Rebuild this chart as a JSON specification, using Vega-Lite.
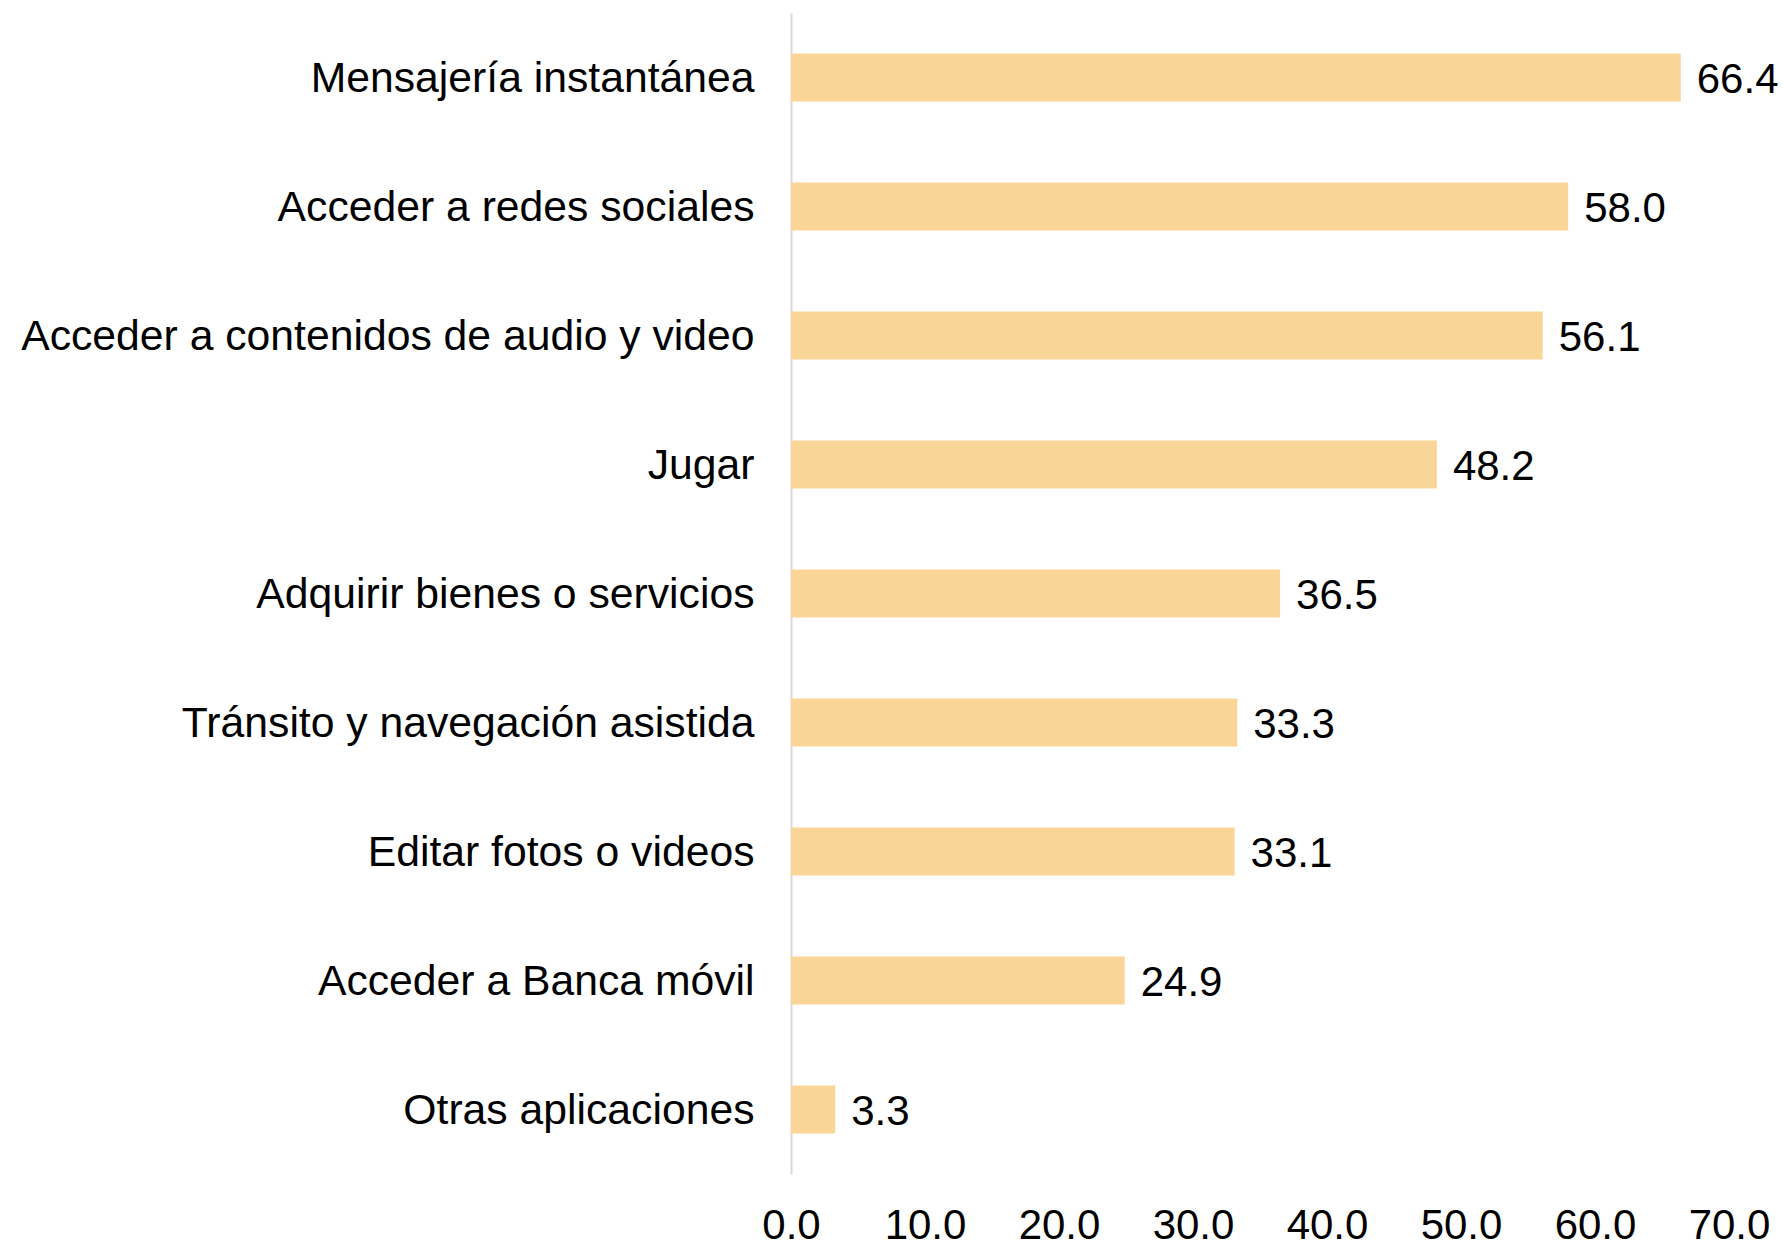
{
  "$schema": "https://vega.github.io/schema/vega-lite/v6.json",
  "autosize": "none",
  "width": 938,
  "height": 1161,
  "padding": {"left": 791, "top": 13, "right": 54, "bottom": 73},
  "background": "white",
  "config": {
    "view": {"stroke": null},
    "font": "Liberation Sans",
    "axis": {"labelFont": "Liberation Sans", "labelColor": "#000000"}
  },
  "data": {
    "values": [
      {"categoria": "Mensajería instantánea", "valor": 66.4},
      {"categoria": "Acceder a redes sociales", "valor": 58.0},
      {"categoria": "Acceder a contenidos de audio y video", "valor": 56.1},
      {"categoria": "Jugar", "valor": 48.2},
      {"categoria": "Adquirir bienes o servicios", "valor": 36.5},
      {"categoria": "Tránsito y navegación asistida", "valor": 33.3},
      {"categoria": "Editar fotos o videos", "valor": 33.1},
      {"categoria": "Acceder a Banca móvil", "valor": 24.9},
      {"categoria": "Otras aplicaciones", "valor": 3.3}
    ]
  },
  "encoding": {
    "y": {
      "field": "categoria",
      "type": "nominal",
      "sort": null,
      "scale": {"paddingInner": 0.628, "paddingOuter": 0.314},
      "axis": {
        "title": null,
        "ticks": false,
        "domain": true,
        "domainColor": "#d9d9d9",
        "domainWidth": 2,
        "labelFontSize": 42.7,
        "labelPadding": 37,
        "labelLimit": 1000,
        "labelOffset": 1
      }
    },
    "x": {
      "field": "valor",
      "type": "quantitative",
      "scale": {"domain": [0, 70], "nice": false},
      "axis": {
        "title": null,
        "values": [0, 10, 20, 30, 40, 50, 60, 70],
        "format": ".1f",
        "grid": false,
        "ticks": false,
        "domain": false,
        "labelFontSize": 42,
        "labelPadding": 31,
        "labelFlush": false,
        "labelOverlap": false
      }
    }
  },
  "layer": [
    {"mark": {"type": "bar", "color": "#F9D597"}},
    {
      "mark": {"type": "text", "align": "left", "baseline": "middle", "dx": 16, "dy": 2, "fontSize": 42, "color": "#000000", "font": "Liberation Sans"},
      "encoding": {"text": {"field": "valor", "type": "quantitative", "format": ".1f"}}
    }
  ]
}
